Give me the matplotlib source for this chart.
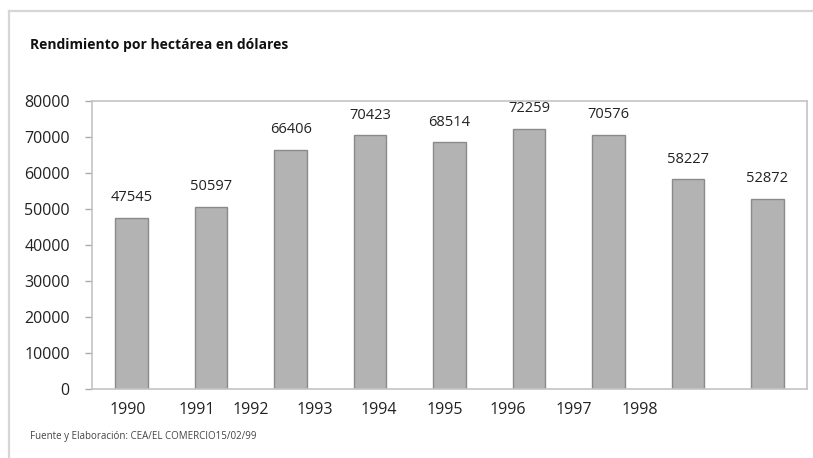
import numpy as np
import matplotlib.pyplot as plt
from matplotlib.lines import Line2D

# datos
valores = [47545, 50597, 66406, 70423, 68514, 72259, 70576, 58227, 52872]
anios = ['1990', '1991', '1992', '1993', '1994', '1995', '1996', '1997', '1998']
titulo = 'Rendimiento por hectárea en dólares'
fuente = 'Fuente y Elaboración: CEA/EL COMERCIO15/02/99'

plt.rcParams['font.family'] = ['Open Sans', 'DejaVu Sans']

W, H = 813, 458
fig = plt.figure(figsize=(W / 100, H / 100), dpi=100)
ax = fig.add_axes([92 / W, 1 - 389 / H, (807 - 92) / W, (389 - 101) / H])

x = np.arange(len(valores))
barras = ax.bar(x, valores, width=0.41, color='#b3b3b3', edgecolor='#8a8a8a', linewidth=1)
for xi, v in zip(x, valores):
    ax.annotate(str(v), (xi, v), xytext=(0, 9), textcoords='offset points',
                ha='center', va='bottom', fontsize=10.5, color='#222222')

ax.set_xlim(-0.5, len(valores) - 0.5)
ax.set_ylim(0, 80000)
ax.set_yticks(np.arange(0, 80001, 10000))
# las etiquetas de los años no coinciden con las barras en el original
pos_anios = [-0.05, 0.82, 1.5, 2.3, 3.11, 3.94, 4.73, 5.57, 6.39]
ax.set_xticks(pos_anios)
ax.set_xticklabels(anios)
ax.tick_params(axis='x', length=0, pad=9, labelsize=11.5, labelcolor='#222222')
ax.tick_params(axis='y', length=5, width=1, color='#aaaaaa', pad=11,
               labelsize=11.5, labelcolor='#222222')
for s in ax.spines.values():
    s.set_color('#c4c4c4')
    s.set_linewidth(1.2)

# marco exterior
fig.add_artist(Line2D([9 / W, 1], [1 - 11 / H, 1 - 11 / H], color='#d6d6d6', lw=1.6))
fig.add_artist(Line2D([9 / W, 9 / W], [1 - 11 / H, 0], color='#d6d6d6', lw=1.6))

fig.text(30 / W, 1 - 45 / H, titulo, fontsize=10, fontweight='bold', va='center', ha='left',
         color='#111111')
fig.text(30 / W, 1 - 436 / H, fuente, fontsize=7, va='center', ha='left', color='#444444')

fig.savefig('out.png', dpi=100)
